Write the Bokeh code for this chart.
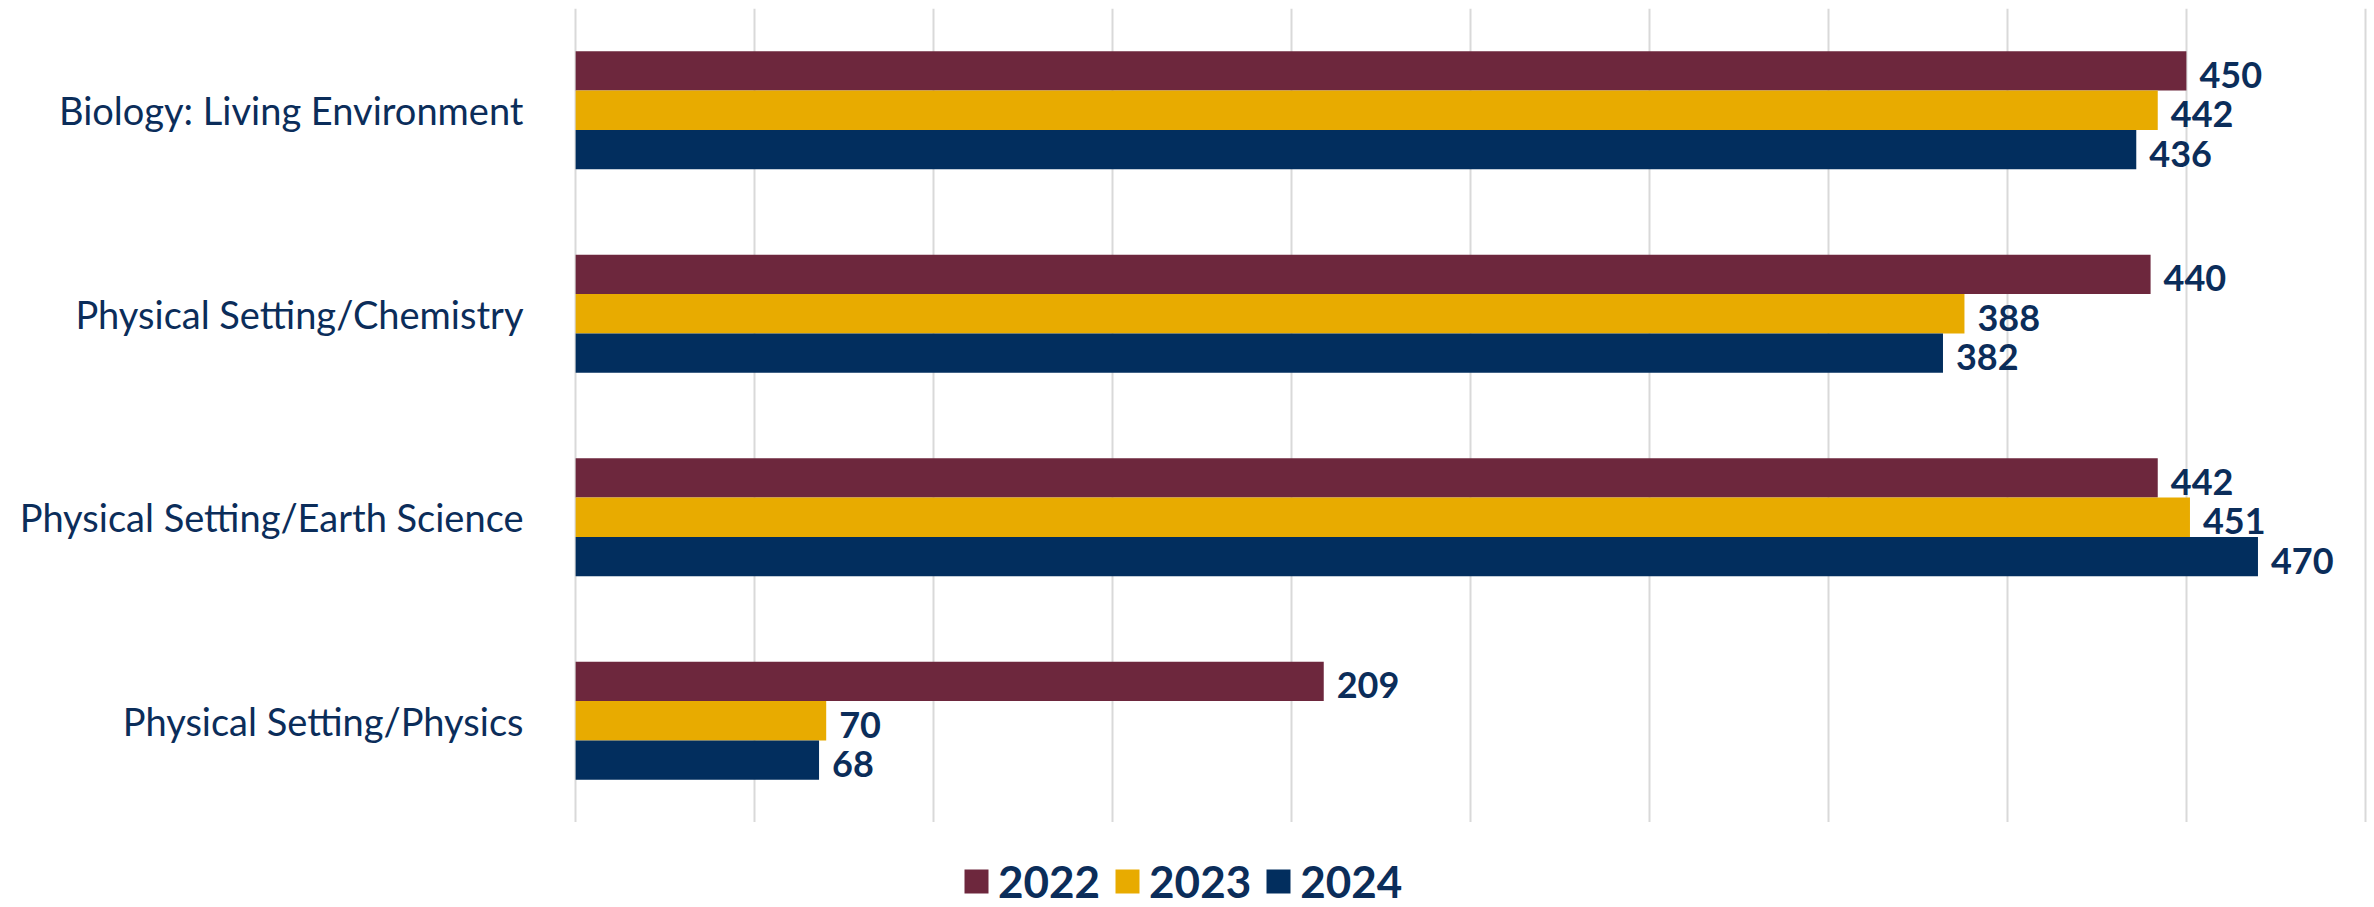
from bokeh.plotting import figure
from bokeh.layouts import column
from bokeh.models import FactorRange, Range1d, Legend, LegendItem, FixedTicker, ColumnDataSource
from bokeh.transform import dodge
from bokeh.core.properties import value
from bokeh.embed import file_html
from bokeh.resources import INLINE

categories = ["Biology: Living Environment", "Physical Setting/Chemistry",
              "Physical Setting/Earth Science", "Physical Setting/Physics"]
years = ["2022", "2023", "2024"]
v2022 = [450, 440, 442, 209]
v2023 = [442, 388, 451, 70]
v2024 = [436, 382, 470, 68]
grid_ticks = [0, 50, 100, 150, 200, 250, 300, 350, 400, 450, 500]

colors = ["#6D273D", "#E8AB00", "#022E5E"]
text_color = "#0B2D5A"
series = [v2022, v2023, v2024]
offsets = [0.193, 0.0, -0.193]
bar_h = 0.193

p = figure(width=2374, height=822,
           y_range=FactorRange(factors=list(reversed(categories))),
           x_range=Range1d(-0.6, 500.6),
           output_backend="svg", toolbar_location=None,
           min_border_left=573, min_border_right=7,
           min_border_top=8, min_border_bottom=0)
p.outline_line_color = None
p.background_fill_color = "white"

for yr, vals, col, off in zip(years, series, colors, offsets):
    src = ColumnDataSource(dict(cat=categories, val=vals, lab=[str(v) for v in vals]))
    p.hbar(y=dodge("cat", off, range=p.y_range), left=0, right="val",
           height=bar_h, source=src, fill_color=col, line_color=None)
    p.text(x="val", y=dodge("cat", off, range=p.y_range), text="lab", source=src,
           x_offset=13, y_offset=4, text_baseline="middle", text_align="left",
           text_font=value("Lato"), text_font_style="bold",
           text_font_size="36px", text_color=text_color)

p.xgrid.ticker = FixedTicker(ticks=grid_ticks)
p.xgrid.grid_line_color = "#D9D9D9"
p.xgrid.grid_line_width = 2
p.ygrid.grid_line_color = None

p.xaxis.visible = False
ya = p.yaxis[0]
ya.axis_line_color = None
ya.major_tick_line_color = None
ya.minor_tick_line_color = None
ya.major_label_standoff = 44
ya.major_label_text_font = "Lato"
ya.major_label_text_font_size = "38px"
ya.major_label_text_color = text_color

# legend strip below the chart
pl = figure(width=2374, height=85, x_range=Range1d(0, 1), y_range=Range1d(0, 1),
            output_backend="svg", toolbar_location=None,
            min_border_left=573, min_border_right=7, min_border_top=0, min_border_bottom=0)
pl.outline_line_color = None
pl.axis.visible = False
pl.grid.grid_line_color = None
nan = float("nan")
items = []
for yr, col in zip(years, colors):
    r = pl.quad(left=[nan], right=[nan], top=[nan], bottom=[nan],
                fill_color=col, line_color=None)
    items.append(LegendItem(label=yr, renderers=[r]))
legend = Legend(items=items, orientation="horizontal", location=(388, 0),
                glyph_width=30, glyph_height=30, label_standoff=7, spacing=12,
                padding=0, margin=0, border_line_color=None,
                background_fill_alpha=0,
                label_text_font="Lato", label_text_font_style="bold",
                label_text_font_size="44px", label_text_color=text_color)
pl.add_layout(legend, "center")

layout = column(p, pl, spacing=0)
open("out.html", "w").write(file_html(layout, INLINE))
